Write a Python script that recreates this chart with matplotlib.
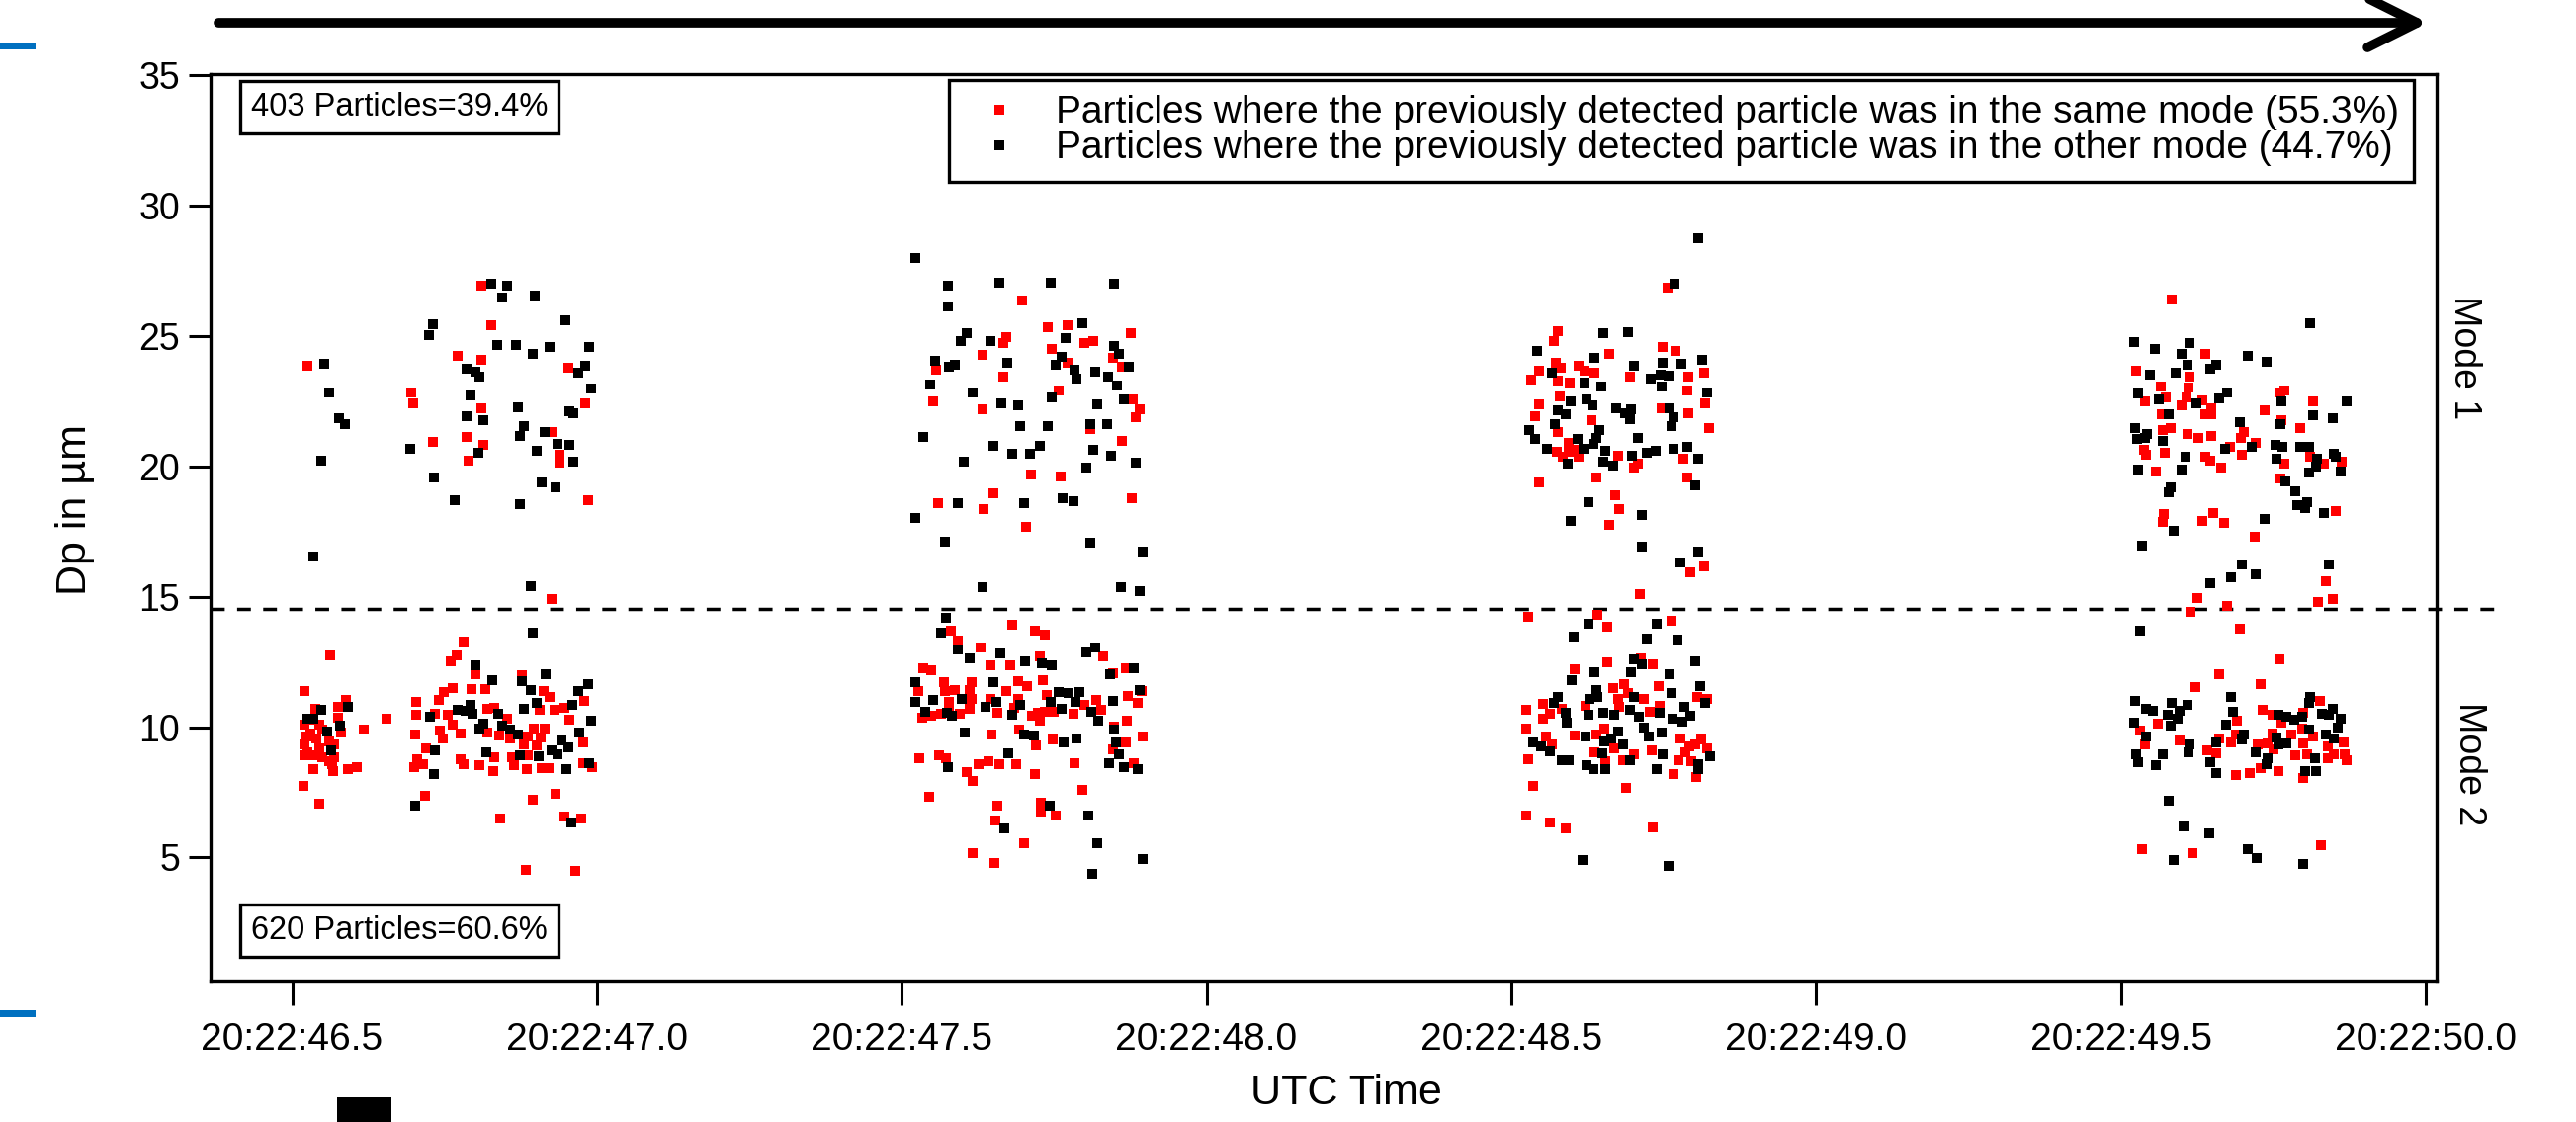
import numpy as np
import matplotlib
matplotlib.use('Agg')
import matplotlib.pyplot as plt
from matplotlib.lines import Line2D
from matplotlib.patches import FancyArrowPatch, Rectangle
from matplotlib.ticker import FuncFormatter

matplotlib.rcParams['font.family'] = 'Liberation Sans'

# ============================================================
# data: (seconds after 20:22:46, Dp in um)
# ============================================================

# --- burst 1 (20:22:46.5 - 20:22:47.0) ---
c1_red = [
    (0.810, 26.93), (0.827, 25.41), (0.771, 24.25), (0.811, 24.09), (0.525, 23.87), (0.953, 23.80),
    (0.695, 22.85), (0.699, 22.41), (0.811, 22.25), (0.981, 22.41), (0.925, 21.32), (0.731, 20.96),
    (0.786, 21.12), (0.813, 20.83), (0.790, 20.24), (0.938, 20.45), (0.938, 20.14), (0.985, 18.72),
    (0.926, 14.93),
    (0.782, 13.27), (0.562, 12.76), (0.770, 12.76), (0.761, 12.52), (0.801, 12.04), (0.877, 11.98),
    (0.520, 11.37), (0.764, 11.50), (0.795, 11.45), (0.817, 11.45), (0.913, 11.39), (0.749, 11.35),
    (0.923, 11.16), (0.588, 11.03), (0.979, 11.01), (0.576, 10.78), (0.538, 10.71), (0.704, 10.97),
    (0.741, 11.03), (0.820, 10.71), (0.831, 10.74), (0.906, 10.65), (0.931, 10.65), (0.947, 10.74),
    (0.655, 10.34), (0.576, 10.36), (0.704, 10.46), (0.734, 10.52), (0.755, 10.46), (0.853, 10.34),
    (0.954, 10.27), (0.520, 10.08), (0.544, 10.08), (0.618, 9.92), (0.764, 10.08), (0.581, 9.79),
    (0.742, 9.85), (0.776, 9.77), (0.820, 9.80), (0.839, 9.68), (0.896, 9.96), (0.915, 9.96),
    (0.702, 9.70), (0.523, 9.64), (0.539, 9.58), (0.886, 9.64), (0.907, 9.60), (0.747, 9.55),
    (0.858, 9.58), (0.520, 9.35), (0.569, 9.35), (0.880, 9.32), (0.902, 9.30), (0.977, 9.40),
    (0.719, 9.20), (0.520, 8.92), (0.537, 8.92), (0.550, 8.84), (0.569, 8.84), (0.831, 8.84),
    (0.861, 8.84), (0.887, 8.92), (0.705, 8.75), (0.777, 8.75), (0.782, 8.59), (0.715, 8.59),
    (0.566, 8.59), (0.808, 8.54), (0.864, 8.54), (0.977, 8.63), (0.535, 8.38), (0.568, 8.31),
    (0.591, 8.38), (0.606, 8.46), (0.701, 8.46), (0.830, 8.31), (0.885, 8.38), (0.910, 8.41),
    (0.920, 8.41), (0.992, 8.46), (0.519, 7.74), (0.718, 7.36), (0.544, 7.07), (0.895, 7.22),
    (0.932, 7.43), (0.842, 6.49), (0.947, 6.57), (0.974, 6.49), (0.883, 4.52), (0.964, 4.49),
    (0.530, 10.30), (0.550, 9.90), (0.530, 9.75), (0.560, 9.45), (0.545, 9.20), (0.525, 9.05),
    (0.560, 8.70),
]
c1_black = [
    (0.827, 27.00), (0.852, 26.93), (0.845, 26.50), (0.898, 26.56), (0.949, 25.61), (0.731, 25.47),
    (0.724, 25.04), (0.836, 24.68), (0.867, 24.68), (0.895, 24.32), (0.922, 24.57), (0.988, 24.60),
    (0.553, 23.95), (0.981, 23.88), (0.969, 23.59), (0.786, 23.77), (0.801, 23.64), (0.808, 23.44),
    (0.561, 22.85), (0.792, 22.74), (0.991, 23.01), (0.870, 22.27), (0.954, 22.12), (0.961, 22.04),
    (0.577, 21.84), (0.587, 21.62), (0.786, 21.92), (0.814, 21.77), (0.880, 21.54), (0.874, 21.19),
    (0.914, 21.32), (0.693, 20.67), (0.805, 20.54), (0.901, 20.60), (0.935, 20.88), (0.954, 20.82),
    (0.962, 20.17), (0.547, 20.24), (0.733, 19.58), (0.910, 19.38), (0.932, 19.21), (0.767, 18.72),
    (0.873, 18.57), (0.534, 16.53), (0.892, 15.42),
    (0.895, 13.62), (0.801, 12.38), (0.916, 12.03), (0.829, 11.82), (0.877, 11.75), (0.986, 11.66),
    (0.892, 11.44), (0.969, 11.37), (0.902, 10.94), (0.792, 10.87), (0.960, 10.87), (0.591, 10.79),
    (0.547, 10.65), (0.771, 10.65), (0.785, 10.61), (0.796, 10.50), (0.838, 10.52), (0.880, 10.70),
    (0.726, 10.40), (0.525, 10.31), (0.534, 10.31), (0.578, 10.04), (0.991, 10.23), (0.814, 10.12),
    (0.845, 10.06), (0.557, 9.83), (0.858, 9.89), (0.807, 9.96), (0.870, 9.70), (0.971, 9.80),
    (0.942, 9.48), (0.953, 9.24), (0.926, 9.12), (0.735, 9.11), (0.564, 9.11), (0.818, 9.05),
    (0.935, 8.97), (0.873, 8.92), (0.904, 8.89), (0.988, 8.60), (0.950, 8.38), (0.732, 8.19),
    (0.702, 6.99), (0.958, 6.34),
]

# --- burst 2 (20:22:47.5 - 20:22:47.9) ---
c2_red = [
    (1.697, 26.37), (1.740, 25.36), (1.772, 25.42), (1.876, 25.12), (1.672, 24.98), (1.667, 24.75),
    (1.800, 24.75), (1.815, 24.83), (1.746, 24.50), (1.632, 24.29), (1.846, 24.18), (1.556, 23.73),
    (1.772, 23.99), (1.861, 23.84), (1.666, 23.45), (1.757, 22.91), (1.551, 22.51), (1.632, 22.19),
    (1.879, 22.57), (1.890, 22.19), (1.884, 21.90), (1.810, 21.43), (1.862, 20.99), (1.712, 19.69),
    (1.761, 19.63), (1.560, 18.61), (1.650, 18.97), (1.635, 18.36), (1.877, 18.77), (1.704, 17.67),
    (1.580, 13.70), (1.681, 13.91), (1.719, 13.68), (1.734, 13.56), (1.592, 13.31), (1.629, 13.05),
    (1.830, 12.70), (1.727, 12.72), (1.645, 12.38), (1.678, 12.38), (1.535, 12.25), (1.549, 12.18),
    (1.867, 12.25), (1.846, 12.08), (1.527, 11.40), (1.570, 11.74), (1.615, 11.74), (1.691, 11.77),
    (1.706, 11.57), (1.731, 11.79), (1.571, 11.40), (1.588, 11.44), (1.611, 11.44), (1.672, 11.40),
    (1.894, 11.40), (1.738, 11.23), (1.615, 11.07), (1.577, 10.98), (1.646, 11.10), (1.691, 11.10),
    (1.799, 10.86), (1.819, 11.03), (1.871, 11.18), (1.887, 10.93), (1.611, 10.70), (1.577, 10.76),
    (1.534, 10.36), (1.549, 10.44), (1.596, 10.51), (1.565, 10.51), (1.657, 10.56), (1.684, 10.73),
    (1.781, 10.53), (1.828, 10.68), (1.714, 10.43), (1.723, 10.56), (1.734, 10.60), (1.750, 10.60),
    (1.727, 10.26), (1.848, 10.02), (1.869, 10.26), (1.647, 9.72), (1.693, 9.89), (1.747, 9.52),
    (1.720, 9.30), (1.868, 9.43), (1.896, 9.63), (1.847, 9.13), (1.529, 8.79), (1.561, 8.93),
    (1.573, 8.82), (1.880, 8.62), (1.626, 8.57), (1.642, 8.71), (1.660, 8.57), (1.688, 8.57),
    (1.784, 8.62), (1.606, 8.29), (1.616, 7.95), (1.719, 8.20), (1.797, 7.61), (1.545, 7.32),
    (1.657, 6.99), (1.728, 7.11), (1.728, 6.77), (1.753, 6.60), (1.653, 6.40), (1.700, 5.54),
    (1.616, 5.17), (1.652, 4.78),
]
c2_black = [
    (1.523, 28.00), (1.576, 26.94), (1.660, 27.07), (1.744, 27.07), (1.849, 27.01), (1.576, 26.13),
    (1.797, 25.49), (1.607, 25.12), (1.597, 24.83), (1.645, 24.83), (1.769, 24.92), (1.848, 24.63),
    (1.856, 24.33), (1.762, 24.21), (1.554, 24.04), (1.578, 23.82), (1.588, 23.90), (1.673, 23.99),
    (1.753, 23.90), (1.784, 23.73), (1.787, 23.37), (1.873, 23.82), (1.818, 23.62), (1.839, 23.45),
    (1.853, 23.11), (1.547, 23.16), (1.616, 22.86), (1.746, 22.66), (1.663, 22.44), (1.691, 22.36),
    (1.865, 22.56), (1.821, 22.39), (1.694, 21.56), (1.739, 21.56), (1.809, 21.64), (1.837, 21.64),
    (1.536, 21.14), (1.651, 20.80), (1.727, 20.79), (1.681, 20.48), (1.710, 20.48), (1.815, 20.64),
    (1.843, 20.42), (1.803, 19.94), (1.884, 20.13), (1.601, 20.20), (1.592, 18.61), (1.700, 18.61),
    (1.764, 18.77), (1.781, 18.68), (1.523, 18.04), (1.571, 17.10), (1.810, 17.06), (1.896, 16.73),
    (1.632, 15.35), (1.860, 15.35), (1.890, 15.22),
    (1.573, 14.20), (1.564, 13.63), (1.592, 12.97), (1.612, 12.62), (1.662, 12.82), (1.803, 12.87),
    (1.818, 13.04), (1.703, 12.53), (1.730, 12.46), (1.746, 12.38), (1.880, 12.25), (1.841, 12.03),
    (1.523, 11.74), (1.651, 11.74), (1.757, 11.35), (1.773, 11.30), (1.792, 11.35), (1.890, 11.44),
    (1.523, 10.98), (1.551, 11.03), (1.598, 11.10), (1.655, 10.98), (1.694, 10.86), (1.745, 10.98),
    (1.785, 10.98), (1.846, 11.01), (1.638, 10.76), (1.538, 10.60), (1.574, 10.56), (1.583, 10.43),
    (1.681, 10.46), (1.763, 10.70), (1.811, 10.60), (1.822, 10.26), (1.848, 9.92), (1.603, 9.80),
    (1.700, 9.72), (1.717, 9.68), (1.765, 9.43), (1.786, 9.58), (1.852, 9.41), (1.857, 8.94),
    (1.675, 8.99), (1.840, 8.62), (1.865, 8.47), (1.887, 8.37), (1.576, 8.47), (1.743, 6.97),
    (1.806, 6.60), (1.669, 6.10), (1.820, 5.54), (1.896, 4.95), (1.812, 4.38),
]

# --- burst 3 (20:22:48.5 - 20:22:48.8) ---
c3_red = [
    (2.757, 26.86), (2.576, 25.19), (2.570, 24.81), (2.748, 24.60), (2.769, 24.45), (2.661, 24.33),
    (2.573, 23.97), (2.582, 23.80), (2.611, 23.88), (2.546, 23.68), (2.620, 23.68), (2.636, 23.59),
    (2.816, 23.59), (2.533, 23.33), (2.577, 23.30), (2.596, 23.23), (2.695, 23.44), (2.791, 23.44),
    (2.788, 22.93), (2.580, 22.70), (2.546, 22.37), (2.818, 22.44), (2.539, 21.93), (2.747, 22.22),
    (2.791, 22.06), (2.632, 21.78), (2.824, 21.49), (2.577, 21.31), (2.595, 20.92), (2.575, 20.58),
    (2.594, 20.55), (2.603, 20.64), (2.585, 20.39), (2.611, 20.38), (2.676, 20.40), (2.782, 20.30),
    (2.702, 19.95), (2.708, 20.10), (2.639, 19.58), (2.788, 19.58), (2.546, 19.38), (2.670, 18.90),
    (2.677, 18.35), (2.661, 17.77), (2.793, 15.95), (2.816, 16.18), (2.711, 15.09),
    (2.527, 14.22), (2.642, 14.29), (2.657, 13.85), (2.763, 14.07), (2.657, 12.47), (2.604, 12.23),
    (2.712, 12.64), (2.732, 12.40), (2.667, 11.50), (2.685, 11.66), (2.742, 11.56), (2.691, 11.31),
    (2.805, 11.16), (2.822, 11.09), (2.552, 10.88), (2.524, 10.65), (2.675, 11.09), (2.717, 11.09),
    (2.677, 10.78), (2.622, 10.82), (2.583, 10.71), (2.727, 10.59), (2.744, 10.80), (2.552, 10.34),
    (2.564, 10.50), (2.524, 9.93), (2.652, 9.96), (2.604, 9.68), (2.640, 9.70), (2.557, 9.64),
    (2.778, 9.55), (2.811, 9.51), (2.566, 9.32), (2.669, 9.20), (2.792, 9.26), (2.802, 9.32),
    (2.821, 9.20), (2.637, 9.05), (2.702, 8.97), (2.730, 9.10), (2.786, 9.05), (2.527, 8.75),
    (2.654, 8.69), (2.683, 8.72), (2.775, 8.74), (2.795, 8.69), (2.766, 8.19), (2.803, 8.08),
    (2.536, 7.73), (2.689, 7.65), (2.524, 6.62), (2.564, 6.35), (2.590, 6.12), (2.732, 6.14),
]
c3_black = [
    (2.806, 28.77), (2.768, 27.00), (2.651, 25.11), (2.692, 25.17), (2.543, 24.45), (2.636, 24.16),
    (2.748, 23.99), (2.779, 23.95), (2.813, 24.08), (2.701, 23.87), (2.567, 23.59), (2.745, 23.51),
    (2.758, 23.49), (2.728, 23.37), (2.620, 23.23), (2.648, 23.07), (2.746, 23.07), (2.822, 22.85),
    (2.598, 22.51), (2.624, 22.56), (2.633, 22.35), (2.577, 22.17), (2.589, 21.99), (2.672, 22.22),
    (2.696, 22.20), (2.686, 22.03), (2.695, 21.81), (2.760, 22.22), (2.766, 21.91), (2.763, 21.57),
    (2.571, 21.63), (2.530, 21.40), (2.645, 21.40), (2.707, 21.11), (2.539, 21.05), (2.608, 21.05),
    (2.639, 21.11), (2.559, 20.68), (2.619, 20.68), (2.635, 20.86), (2.654, 20.60), (2.766, 20.67),
    (2.788, 20.74), (2.737, 20.60), (2.723, 20.54), (2.698, 20.40), (2.806, 20.30), (2.592, 20.10),
    (2.651, 20.17), (2.667, 20.03), (2.801, 19.29), (2.626, 18.64), (2.714, 18.12), (2.598, 17.92),
    (2.714, 16.94), (2.806, 16.75), (2.778, 16.30),
    (2.626, 13.98), (2.738, 13.98), (2.602, 13.47), (2.723, 13.40), (2.773, 13.37), (2.702, 12.61),
    (2.715, 12.40), (2.801, 12.52), (2.636, 12.11), (2.697, 12.11), (2.760, 12.02), (2.599, 11.80),
    (2.810, 11.57), (2.640, 11.44), (2.628, 11.09), (2.641, 11.16), (2.763, 11.30), (2.818, 10.94),
    (2.576, 11.16), (2.570, 10.94), (2.702, 11.14), (2.589, 10.56), (2.626, 10.49), (2.651, 10.56),
    (2.669, 10.49), (2.695, 10.66), (2.710, 10.41), (2.744, 10.55), (2.784, 10.78), (2.794, 10.42),
    (2.764, 10.34), (2.780, 10.21), (2.591, 10.18), (2.717, 9.98), (2.747, 9.80), (2.676, 9.83),
    (2.621, 9.64), (2.726, 9.64), (2.536, 9.40), (2.549, 9.26), (2.652, 9.45), (2.664, 9.55),
    (2.684, 9.32), (2.564, 9.07), (2.650, 9.01), (2.748, 8.94), (2.826, 8.88), (2.583, 8.74),
    (2.595, 8.74), (2.695, 8.74), (2.806, 8.56), (2.624, 8.54), (2.634, 8.39), (2.655, 8.39),
    (2.738, 8.39), (2.806, 8.38), (2.617, 4.90), (2.758, 4.68),
]

# --- burst 4 (20:22:49.5 - 20:22:49.9) ---
c4_red = [
    (3.584, 26.42), (3.639, 24.31), (3.525, 23.66), (3.612, 23.46), (3.566, 23.08), (3.611, 23.04),
    (3.607, 22.66), (3.573, 22.64), (3.540, 22.50), (3.768, 22.92), (3.761, 22.83), (3.816, 22.50),
    (3.599, 22.35), (3.634, 22.54), (3.648, 22.22), (3.638, 21.99), (3.649, 21.99), (3.567, 21.99),
    (3.736, 22.16), (3.764, 21.78), (3.794, 21.46), (3.581, 21.49), (3.568, 21.40), (3.609, 21.25),
    (3.627, 21.11), (3.649, 21.19), (3.702, 21.31), (3.697, 21.08), (3.721, 20.92), (3.679, 20.74),
    (3.538, 20.63), (3.541, 20.45), (3.572, 20.51), (3.699, 20.45), (3.639, 20.39), (3.647, 20.24),
    (3.811, 20.39), (3.863, 20.20), (3.768, 20.11), (3.833, 20.11), (3.558, 19.79), (3.665, 19.95),
    (3.762, 19.54), (3.852, 18.28), (3.571, 18.18), (3.568, 17.86), (3.634, 17.91), (3.652, 18.20),
    (3.670, 17.85), (3.720, 17.32), (3.836, 15.58), (3.625, 14.95), (3.823, 14.79), (3.848, 14.91),
    (3.674, 14.63),
    (3.615, 14.41), (3.696, 13.77), (3.760, 12.61), (3.662, 12.02), (3.623, 11.55), (3.730, 11.66),
    (3.826, 11.01), (3.733, 10.68), (3.749, 10.49), (3.799, 10.56), (3.560, 10.15), (3.690, 10.23),
    (3.764, 10.18), (3.531, 9.85), (3.798, 9.96), (3.661, 9.58), (3.689, 9.70), (3.748, 9.77),
    (3.779, 9.70), (3.815, 9.64), (3.597, 9.48), (3.680, 9.41), (3.799, 9.39), (3.866, 9.41),
    (3.540, 9.35), (3.724, 9.32), (3.740, 9.39), (3.750, 9.13), (3.840, 9.26), (3.641, 9.10),
    (3.657, 8.98), (3.849, 8.97), (3.867, 8.97), (3.786, 8.91), (3.805, 8.97), (3.839, 8.82),
    (3.871, 8.73), (3.730, 8.44), (3.759, 8.31), (3.711, 8.24), (3.688, 8.16), (3.799, 8.03),
    (3.829, 5.47), (3.534, 5.33), (3.618, 5.18),
]
c4_black = [
    (3.811, 25.51), (3.522, 24.79), (3.556, 24.50), (3.612, 24.75), (3.599, 24.31), (3.609, 23.89),
    (3.708, 24.25), (3.739, 24.02), (3.646, 23.74), (3.656, 23.89), (3.547, 23.52), (3.590, 23.59),
    (3.528, 22.79), (3.562, 22.58), (3.675, 22.85), (3.662, 22.60), (3.764, 22.50), (3.870, 22.50),
    (3.624, 22.42), (3.578, 21.99), (3.815, 21.97), (3.847, 21.84), (3.696, 21.69), (3.761, 21.61),
    (3.524, 21.49), (3.543, 21.26), (3.526, 21.05), (3.539, 21.11), (3.568, 20.98), (3.671, 20.68),
    (3.715, 20.74), (3.753, 20.83), (3.765, 20.74), (3.795, 20.74), (3.809, 20.74), (3.606, 20.38),
    (3.755, 20.30), (3.821, 20.30), (3.849, 20.49), (3.853, 20.39), (3.820, 20.01), (3.528, 19.87),
    (3.599, 19.87), (3.861, 19.79), (3.808, 19.76), (3.770, 19.44), (3.581, 19.21), (3.578, 19.00),
    (3.786, 19.06), (3.789, 18.52), (3.805, 18.62), (3.802, 18.40), (3.833, 18.20), (3.736, 17.97),
    (3.586, 17.54), (3.534, 16.96), (3.699, 16.24), (3.842, 16.24), (3.680, 15.73), (3.721, 15.86),
    (3.646, 15.51),
    (3.531, 13.70), (3.524, 11.02), (3.681, 11.14), (3.811, 11.16), (3.584, 10.93), (3.609, 10.84),
    (3.808, 10.94), (3.541, 10.71), (3.553, 10.63), (3.597, 10.63), (3.684, 10.59), (3.577, 10.49),
    (3.593, 10.34), (3.759, 10.46), (3.772, 10.40), (3.797, 10.40), (3.847, 10.71), (3.830, 10.53),
    (3.842, 10.46), (3.860, 10.34), (3.784, 10.27), (3.521, 10.18), (3.581, 10.06), (3.672, 10.08),
    (3.856, 9.99), (3.809, 9.89), (3.541, 9.64), (3.701, 9.70), (3.755, 9.60), (3.837, 9.70),
    (3.849, 9.58), (3.656, 9.41), (3.699, 9.51), (3.771, 9.39), (3.613, 9.35), (3.758, 9.32),
    (3.611, 9.03), (3.721, 9.03), (3.525, 8.97), (3.568, 8.94), (3.740, 8.82), (3.819, 8.82),
    (3.528, 8.65), (3.557, 8.53), (3.646, 8.67), (3.739, 8.59), (3.656, 8.24), (3.803, 8.31),
    (3.820, 8.31), (3.578, 7.17), (3.603, 6.19), (3.645, 5.91), (3.708, 5.30), (3.723, 4.96),
    (3.587, 4.90), (3.799, 4.75),
]

mode_split = 14.55          # Dp threshold between the two modes
x_ticks = [0.5, 1.0, 1.5, 2.0, 2.5, 3.0, 3.5, 4.0]
y_ticks = [5, 10, 15, 20, 25, 30, 35]
legend_labels = [
    'Particles where the previously detected particle was in the same mode (55.3%)',
    'Particles where the previously detected particle was in the other mode (44.7%)',
]
mode1_text = '403 Particles=39.4%'
mode2_text = '620 Particles=60.6%'

red = np.array(c1_red + c2_red + c3_red + c4_red)
black = np.array(c1_black + c2_black + c3_black + c4_black)

fig = plt.figure(figsize=(26.06, 11.35), dpi=100)
ax = fig.add_axes([0.0817, 0.126, 0.8642, 0.808])

ax.plot(red[:, 0], red[:, 1], 's', color='#ff0000', markersize=7, markeredgewidth=0, zorder=3)
ax.plot(black[:, 0], black[:, 1], 's', color='black', markersize=7, markeredgewidth=0, zorder=3)

# dashed mode separator, runs a bit past the right axis
ax.plot([0.366, 4.117], [mode_split, mode_split], color='black', lw=2.5,
        dashes=(4.0, 3.6), clip_on=False, zorder=2)

ax.set_xlim(0.366, 4.018)
ax.set_ylim(0.27, 35.06)
ax.set_xticks(x_ticks)
ax.xaxis.set_major_formatter(FuncFormatter(lambda v, p: f'20:22:{46 + v:04.1f}'))
ax.set_yticks(y_ticks)

for s in ax.spines.values():
    s.set_linewidth(2.4)
ax.tick_params(axis='x', direction='out', length=18, width=2.2, labelsize=28, pad=12)
ax.tick_params(axis='y', direction='out', length=16, width=2.2, labelsize=27, pad=6)

ax.set_ylabel('Dp in µm', fontsize=31)
ax.yaxis.set_label_coords(-0.052, 0.52)
ax.set_xlabel('UTC Time', fontsize=31)
ax.xaxis.set_label_coords(0.51, -0.103)

handles = [
    Line2D([], [], marker='s', color='#ff0000', linestyle='none', markersize=6.5, markeredgewidth=0),
    Line2D([], [], marker='s', color='black', linestyle='none', markersize=6.5, markeredgewidth=0),
]
leg = ax.legend(handles, legend_labels, loc='upper right', bbox_to_anchor=(0.990, 0.9935),
                borderaxespad=0, fancybox=False, edgecolor='black', framealpha=1,
                fontsize=28, handlelength=1.85, handletextpad=0.53, labelspacing=0.0,
                borderpad=0.4)
leg.get_frame().set_linewidth(2.4)

# particle count boxes for each mode
box = dict(boxstyle='square,pad=0.34', fc='white', ec='black', lw=2.4)
ax.text(0.0182, 0.980, mode1_text, transform=ax.transAxes, ha='left', va='top',
        fontsize=23.5, bbox=box)
ax.text(0.0182, 0.038, mode2_text, transform=ax.transAxes, ha='left', va='bottom',
        fontsize=23.5, bbox=box)

fig.text(0.9566, 0.681, 'Mode 1', rotation=-90, ha='center', va='center', fontsize=27)
fig.text(0.9585, 0.319, 'Mode 2', rotation=-90, ha='center', va='center', fontsize=27)

# time arrow across the top
arrow = FancyArrowPatch((221 / 2606, 1 - 23 / 1135), (2456 / 2606, 1 - 23 / 1135),
                        transform=fig.transFigure, arrowstyle='->,head_length=3.6,head_width=1.8',
                        mutation_scale=10, lw=7, color='black', shrinkA=0, shrinkB=0)
fig.add_artist(arrow)

# slide decorations left over from the original
for y in (0.956, 0.0938):
    fig.add_artist(Rectangle((0, y), 0.0138, 0.0062, transform=fig.transFigure,
                             color='#0070c0', lw=0))
fig.add_artist(Rectangle((0.1309, 0), 0.0211, 0.022, transform=fig.transFigure,
                         color='black', lw=0))

plt.savefig('out.png', dpi=100)
plt.close()
